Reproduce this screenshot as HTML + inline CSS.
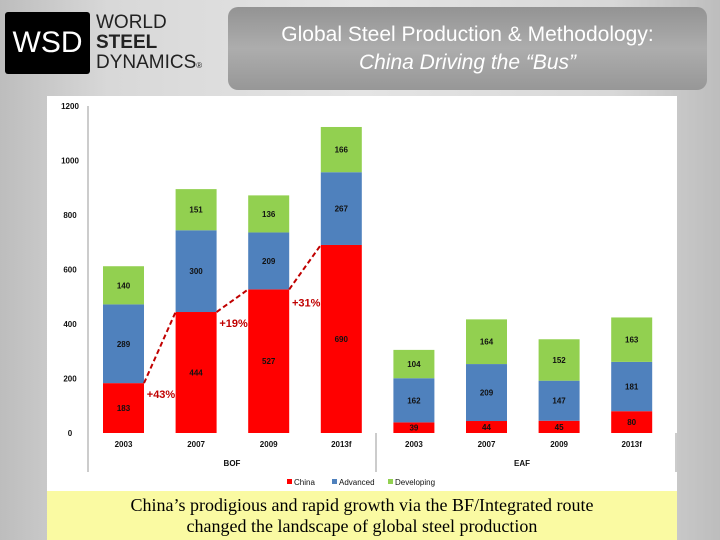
<!DOCTYPE html>
<html><head><meta charset="utf-8"><style>
body{margin:0;width:720px;height:540px;overflow:hidden;background:linear-gradient(90deg,#bdbdbd 0%,#d8d8d8 15%,#e4e4e4 50%,#d8d8d8 85%,#bdbdbd 100%);font-family:"Liberation Sans",sans-serif;position:relative}
.logo{position:absolute;left:5px;top:12px;width:85px;height:62px;background:#000;color:#fff;font-size:30px;line-height:62px;text-align:center;border-radius:3px}
.logotext{position:absolute;left:96px;top:13px;font-size:19px;line-height:20px;color:#222}
.title{position:absolute;left:228px;top:7px;width:479px;height:83px;border-radius:10px;background:linear-gradient(180deg,#939393,#adadad 50%,#979797);color:#fff;text-align:center;font-size:21px;line-height:28px;padding-top:14px;box-sizing:border-box}
.panel{position:absolute;left:47px;top:96px;width:630px;height:395px;background:#fff}
.note{position:absolute;left:47px;top:491px;width:630px;height:49px;background:#fafaa2;font-family:"Liberation Serif",serif;font-size:18px;line-height:21px;text-align:center;padding-top:4px;box-sizing:border-box}
</style></head><body>
<div class="logo">WSD</div>
<div class="logotext">WORLD<br><b>STEEL</b><br>DYNAMICS<span style="font-size:8px">®</span></div>
<div class="title">Global Steel Production &amp; Methodology:<br><i>China Driving the “Bus”</i></div>
<div class="panel"></div>
<svg id="chart" width="720" height="540" style="position:absolute;left:0;top:0"></svg>
<div class="note">China’s prodigious and rapid growth via the BF/Integrated route<br>changed the landscape of global steel production</div>
<script>
const categories=["2003","2007","2009","2013f","2003","2007","2009","2013f"];
const china=[183,444,527,690,39,44,45,80];
const advanced=[289,300,209,267,162,209,147,181];
const developing=[140,151,136,166,104,164,152,163];
const yTicks=[0,200,400,600,800,1000,1200];
const growth=["+43%","+19%","+31%"];
const groups=["BOF","EAF"];
const NS="http://www.w3.org/2000/svg";
const svg=document.getElementById('chart');
const y0=433,scale=327/1200;
function yS(v){return y0-v*scale;}
function xS(i){return 103+i*72.6;}
const bw=41;
function mk(t,a){const e=document.createElementNS(NS,t);for(const k in a)e.setAttribute(k,a[k]);svg.appendChild(e);return e;}
function txt(x,y,s,opt){const e=mk('text',Object.assign({x:x,y:y,'text-anchor':'middle','font-size':8,'font-weight':'bold',fill:'#111','font-family':'Liberation Sans, sans-serif'},opt||{}));e.textContent=s;return e;}
let l=mk('line',{x1:88,y1:106,x2:88,y2:472,stroke:'#999'});

mk('line',{x1:376,y1:433,x2:376,y2:472,stroke:'#999'});
mk('line',{x1:676,y1:433,x2:676,y2:472,stroke:'#999'});
yTicks.forEach(v=>{const t=txt(70,yS(v)+3,String(v),{'text-anchor':'middle'});
});
const cols=['#ff0000','#4f81bd','#92d050'];
const series=[china,advanced,developing];
const names=['china','advanced','developing'];
categories.forEach((c,i)=>{let base=0;const x=xS(i);
series.forEach((s,k)=>{const r=mk('rect',{x:x,y:yS(base+s[i]),width:bw,height:s[i]*scale,fill:cols[k]});


txt(x+bw/2,yS(base+s[i]/2)+3,String(s[i]));base+=s[i];});
const t=txt(x+bw/2,447,c);});
groups.forEach((g,j)=>{const t=txt(j?522:232,466,g);});
for(let i=0;i<3;i++){const ln=mk('line',{x1:xS(i)+bw,y1:yS(china[i]),x2:xS(i+1),y2:yS(china[i+1]),stroke:'#c00000','stroke-width':2,'stroke-dasharray':'5,3'});

const t=txt(xS(i)+bw+17,yS(china[i])+5+(i==2?2:0)+10,growth[i],{'font-size':11,fill:'#c00000'});
}
[['China',287],['Advanced',332],['Developing',388]].forEach((d,k)=>{const r=mk('rect',{x:d[1],y:479,width:5,height:5,fill:cols[k]});

const t=txt(d[1]+7,485,d[0],{'text-anchor':'start','font-weight':'normal'});});
</script>
</body></html>
